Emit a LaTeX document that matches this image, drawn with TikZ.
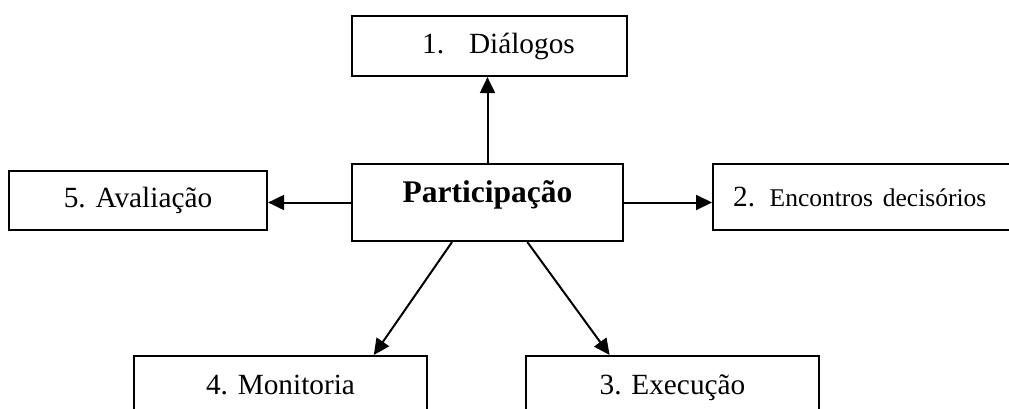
\documentclass[tikz,border=0pt]{standalone}
\usepackage{fontspec}
\setmainfont{Liberation Serif}
\usetikzlibrary{arrows.meta,calc}
\begin{document}
\begin{tikzpicture}[x=1pt,y=-1pt,
  box/.style={draw=black,line width=2.2pt,fill=white,inner sep=0pt,
    font=\fontsize{29.3}{35}\selectfont},
  arr/.style={line width=2pt,-{Triangle[length=16pt,width=15pt]}}]
\clip (0,0) rectangle (1009,409);
\fill[white] (0,0) rectangle (1009,409);
% nodes
\node[box,minimum width=275pt,minimum height=60pt] (d) at (489.5,46) {\hspace*{18pt}1.\hspace{0.85em}Diálogos};
\node[box,minimum width=271pt,inner ysep=16.5pt,text height=22pt,text depth=22pt,
  font=\fontsize{31.5}{36}\selectfont\bfseries] (p) at (487.5,202.5) {Participação};
\node[box,minimum width=258pt,minimum height=59pt] (a) at (138,200.5) {5. Avaliação};
\node[box,anchor=west,minimum height=66pt,inner xsep=20pt,text width=275pt,align=left] (e) at (712,197)
  {2. {\fontsize{25.5}{30}\selectfont Encontros decisórios}};
\node[box,anchor=north,minimum width=293pt,inner ysep=18pt,text height=20pt,text depth=40pt] (m) at (280.5,355) {4. Monitoria};
\node[box,anchor=north,minimum width=293pt,inner ysep=18pt,text height=20pt,text depth=40pt] (x) at (672.5,355) {3. Execução};
% connectors
\draw[arr] (p.north) -- (p.north |- d.south);
\draw[arr] (p.west) -- (p.west -| a.east);
\draw[arr] (p.east) -- (p.east -| e.west);
\draw[arr] ($(p.south west)!0.37!(p.south east)$) -- ($(m.north west)!0.816!(m.north east)$);
\draw[arr] ($(p.south west)!0.646!(p.south east)$) -- ($(x.north west)!0.287!(x.north east)$);
\end{tikzpicture}
\end{document}
